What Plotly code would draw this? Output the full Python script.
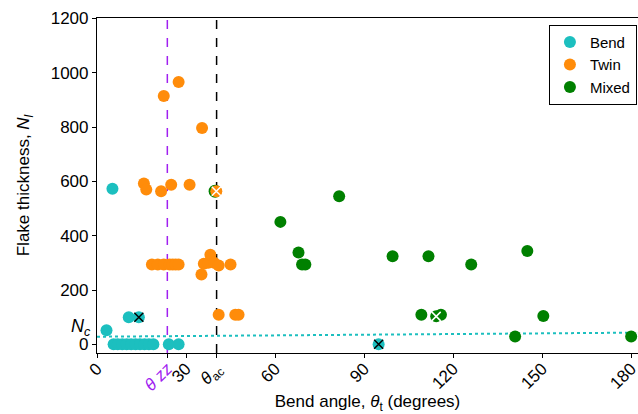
import plotly.graph_objects as go

# Data
bend_x = [5.2, 3.2, 10.7, 14.1, 5.6, 7.0, 8.5, 10.0, 11.5, 13.0, 14.5, 16.0, 17.5, 19.0, 24.2, 27.5, 94.9]
bend_y = [573, 52, 100, 100, 0, 0, 0, 0, 0, 0, 0, 0, 0, 0, 0, 0, 0]

twin_x = [22.5, 27.5, 35.4, 15.8, 16.6, 21.6, 25.0, 31.2, 40.2,
          18.5, 20.5, 22.5, 24.5, 25.5, 26.5, 27.5,
          35.2, 36.0, 37.5, 38.2, 39.5, 41.0, 45.0,
          41.0, 46.6, 47.7]
twin_y = [915, 966, 797, 592, 570, 564, 588, 588, 564,
          294, 294, 294, 294, 294, 294, 294,
          257, 297, 300, 330, 300, 290, 294,
          109, 109, 109]

mixed_x = [39.8, 81.6, 61.8, 67.9, 69.1, 70.2, 99.6, 111.7, 126.1, 145.0,
           109.3, 114.3, 115.9, 150.4, 140.9, 180.0]
mixed_y = [564, 545, 451, 338, 294, 294, 324, 324, 294, 344,
           109, 103, 109, 104, 29, 29]

# Crossed-out points
black_x_x = [14.1, 94.9]
black_x_y = [100, 0]
white_x_x = [40.2, 114.3]
white_x_y = [564, 103]

# Reference lines
theta_zz = 23.7
theta_ac = 40.3
nc_line_x = [0, 182]
nc_line_y = [28, 43]
nc_value = 28

x_tickvals = [0, theta_zz, 30, theta_ac, 60, 90, 120, 150, 180]
x_ticktext = ["0", "<span style='color:#A020F0'><i>θ zz</i></span>", "30",
              "<i>θ</i><sub>ac</sub>", "60", "90", "120", "150", "180"]
y_tickvals = [0, 200, 400, 600, 800, 1000, 1200]

C_BEND = "#1CBFBF"
C_TWIN = "#FF8C0A"
C_MIX = "#008000"
FONT = "Liberation Sans, Arial, sans-serif"

fig = go.Figure()

# vertical dashed lines
fig.add_trace(go.Scatter(x=[theta_zz, theta_zz], y=[-32, 1202], mode="lines",
                         line=dict(color="#A020F0", width=1.5, dash="dash"),
                         showlegend=False, hoverinfo="skip"))
fig.add_trace(go.Scatter(x=[theta_ac, theta_ac], y=[-32, 1202], mode="lines",
                         line=dict(color="black", width=1.5, dash="dash"),
                         showlegend=False, hoverinfo="skip"))
# Nc dotted line
fig.add_trace(go.Scatter(x=nc_line_x, y=nc_line_y, mode="lines",
                         line=dict(color=C_BEND, width=2, dash="dot"),
                         showlegend=False, hoverinfo="skip"))

mk = dict(size=12, line=dict(width=0))
fig.add_trace(go.Scatter(x=bend_x, y=bend_y, mode="markers", name="Bend",
                         marker=dict(color=C_BEND, **mk)))
fig.add_trace(go.Scatter(x=mixed_x[:1], y=mixed_y[:1], mode="markers", name="Mixed",
                         marker=dict(color=C_MIX, size=13, line=dict(width=0)),
                         showlegend=False))
fig.add_trace(go.Scatter(x=twin_x, y=twin_y, mode="markers", name="Twin",
                         marker=dict(color=C_TWIN, **mk)))
fig.add_trace(go.Scatter(x=mixed_x[1:], y=mixed_y[1:], mode="markers", name="Mixed",
                         marker=dict(color=C_MIX, **mk)))
fig.add_trace(go.Scatter(x=black_x_x, y=black_x_y, mode="markers", showlegend=False,
                         marker=dict(symbol="x-thin", size=9, color="black",
                                     line=dict(color="black", width=1.5))))
fig.add_trace(go.Scatter(x=white_x_x, y=white_x_y, mode="markers", showlegend=False,
                         marker=dict(symbol="x-thin", size=9, color="white",
                                     line=dict(color="white", width=1.5))))

fig.add_annotation(x=0, y=nc_value, xref="paper", yref="y",
                   text="<i>N</i><sub><i>c</i></sub>", showarrow=False,
                   xanchor="right", yanchor="bottom", xshift=-4, yshift=-4,
                   font=dict(family=FONT, size=18, color="black"))

fig.update_layout(
    width=638, height=414,
    margin=dict(l=97, r=0, t=18, b=61, autoexpand=False),
    paper_bgcolor="white", plot_bgcolor="white",
    font=dict(family=FONT, size=17, color="black"),
    legend=dict(x=0.998, y=0.98, xanchor="right", yanchor="top",
                bordercolor="black", borderwidth=1, bgcolor="white",
                font=dict(size=15), itemwidth=30, itemsizing="constant",
                tracegroupgap=0),
    xaxis=dict(range=[0, 182.3], tickvals=x_tickvals, ticktext=x_ticktext,
               tickangle=-45, showgrid=False, zeroline=False,
               showline=True, linecolor="black", linewidth=1.2, mirror=True,
               ticks="outside", ticklen=4, tickcolor="black",
               ticklabeloverflow="allow", ticklabelstandoff=-6,
               title=dict(text="Bend angle, <i>θ</i><sub>t</sub> (degrees)",
                          standoff=8, font=dict(size=17))),
    yaxis=dict(range=[-32, 1202], tickvals=y_tickvals, showgrid=False, zeroline=False,
               showline=True, linecolor="black", linewidth=1.2,
               ticks="outside", ticklen=4, tickcolor="black",
               title=dict(text="Flake thickness, <i>N</i><sub><i>l</i></sub>",
                          standoff=16, font=dict(size=17))),
)

fig.write_html("out.html")
